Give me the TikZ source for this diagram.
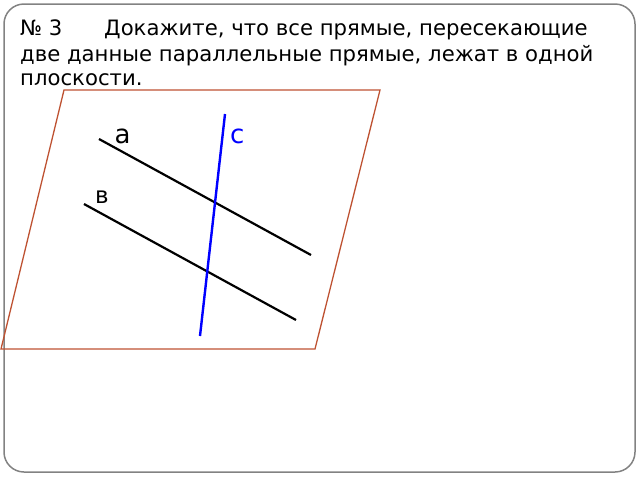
\documentclass[tikz,border=0pt]{standalone}
\usepackage{fontspec}
\setmainfont{DejaVu Sans}
\definecolor{planecol}{RGB}{190,82,50}
\definecolor{framecol}{RGB}{130,130,130}
\begin{document}
\begin{tikzpicture}[x=1pt,y=-1pt,
  frame/.style={draw=framecol,line width=1.5pt,rounded corners=20pt},
  plane/.style={draw=planecol,line width=1.3pt},
  given/.style={draw=black,line width=2.2pt},
  cross/.style={draw=blue,line width=2.4pt},
  title/.style={anchor=base west,inner sep=0pt,font=\fontsize{21.2}{25}\selectfont},
  lbl/.style={anchor=base west,inner sep=0pt}]
\useasboundingbox (0,0) rectangle (640,480);
\draw[frame] (4,4) rectangle (635,472);
% title
\node[title] (t1a) at (20,35) {№ 3};
\node[title] (t1b) at (104,35) {Докажите, что все прямые, пересекающие};
\node[title] (t2) at (20,61) {две данные параллельные прямые, лежат в одной};
\node[title] (t3) at (20,85) {плоскости.};
% plane
\coordinate (p1) at (64,90);
\coordinate (p2) at (380,90);
\coordinate (p3) at (315,349);
\coordinate (p4) at (1,349);
\draw[plane] (p1) -- (p2) -- (p3) -- (p4) -- cycle;
% lines
\coordinate (a1) at (99,139);
\coordinate (a2) at (311,255);
\coordinate (b1) at (84,204);
\coordinate (b2) at (296,320);
\coordinate (c1) at (225,114);
\coordinate (c2) at (200,336);
\draw[given] (a1) -- (a2);
\draw[given] (b1) -- (b2);
\draw[cross] (c1) -- (c2);
% labels
\node[lbl,font=\fontsize{26}{30}\selectfont] (la) at (114.5,143) {а};
\node[lbl,font=\fontsize{26}{30}\selectfont,text=blue] (lc) at (230,143) {с};
\node[lbl,font=\fontsize{23}{27}\selectfont] (lb) at (95,203) {в};
\end{tikzpicture}
\end{document}
